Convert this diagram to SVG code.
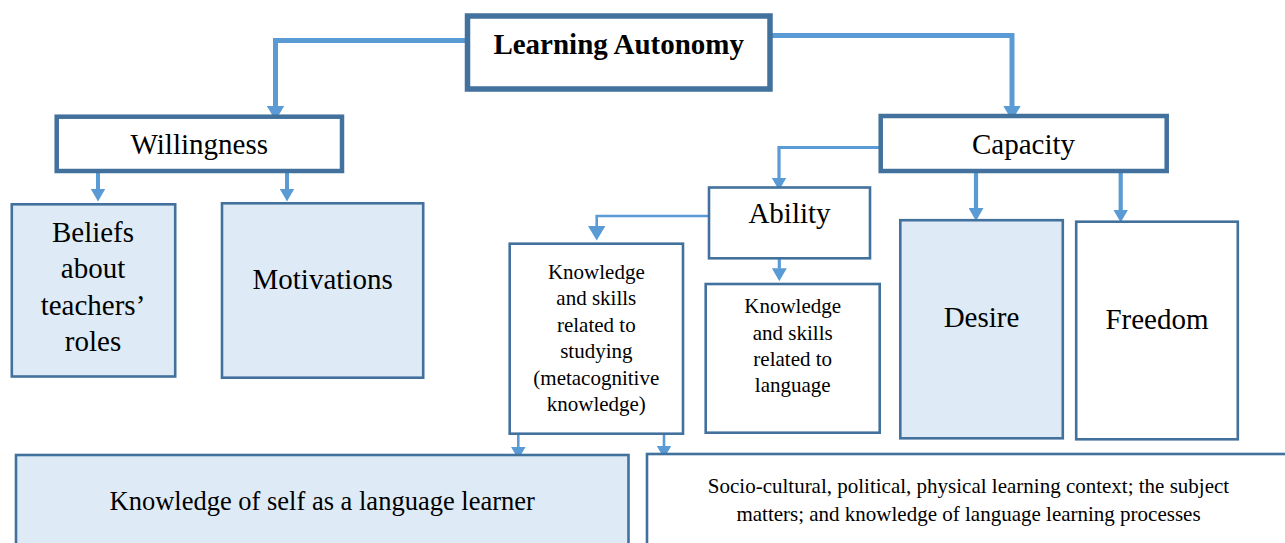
<svg xmlns="http://www.w3.org/2000/svg" width="1285" height="543" viewBox="0 0 1285 543">
  <style>
    .bg { fill: #ffffff; }
    .box { stroke: #41719C; stroke-linejoin: miter; }
    .heavy { stroke-width: 5.5; fill: #ffffff; }
    .mid { stroke-width: 4.5; fill: #ffffff; }
    .thin { stroke-width: 2.6; fill: #ffffff; }
    .tinted { fill: #DEEBF7; }
    .link { fill: none; stroke: #5B9BD5; stroke-linejoin: miter; stroke-linecap: butt; }
    text { font-family: "Liberation Serif", "Times New Roman", serif; fill: #000000; text-anchor: middle; }
    .title { font-size: 29px; font-weight: bold; }
    .big { font-size: 29px; }
    .small { font-size: 21px; }
    .wide { font-size: 26.5px; }
  </style>
  <defs>
    <marker id="arrow-lg" viewBox="0 0 15 18" markerWidth="15" markerHeight="18" refX="0.5" refY="9" orient="auto" markerUnits="userSpaceOnUse">
      <path d="M0,0 L15,9 L0,18 z" fill="#5B9BD5"/>
    </marker>
    <marker id="arrow-md" viewBox="0 0 13 15" markerWidth="13" markerHeight="15" refX="0.5" refY="7.5" orient="auto" markerUnits="userSpaceOnUse">
      <path d="M0,0 L13,7.5 L0,15 z" fill="#5B9BD5"/>
    </marker>
  </defs>

  <rect class="bg" x="0" y="0" width="1285" height="543"/>

  <!-- connectors -->
  <g id="connectors">
    <path class="link" stroke-width="5" d="M467,40.5 H275.5 V106" marker-end="url(#arrow-lg)"/>
    <path class="link" stroke-width="5" d="M770,35.5 H1012 V106" marker-end="url(#arrow-lg)"/>
    <path class="link" stroke-width="4" d="M98,173 V189" marker-end="url(#arrow-md)"/>
    <path class="link" stroke-width="4" d="M287,173 V189" marker-end="url(#arrow-md)"/>
    <path class="link" stroke-width="3.2" d="M880.7,147.5 H779 V178" marker-end="url(#arrow-md)"/>
    <path class="link" stroke-width="4.2" d="M976,171 V208.5" marker-end="url(#arrow-md)"/>
    <path class="link" stroke-width="4.2" d="M1120.7,171 V210" marker-end="url(#arrow-md)"/>
    <path class="link" stroke-width="2.6" d="M709,216 H596.7 V226" marker-end="url(#arrow-lg)"/>
    <path class="link" stroke-width="3.2" d="M779.3,258 V268.7" marker-end="url(#arrow-md)"/>
    <path class="link" stroke-width="2.6" d="M518.3,433.7 V447" marker-end="url(#arrow-md)"/>
    <path class="link" stroke-width="2.6" d="M664,433.7 V446" marker-end="url(#arrow-md)"/>
  </g>

  <!-- nodes -->
  <g id="learning-autonomy">
    <rect class="box heavy" x="467.5" y="16" width="302.5" height="73"/>
    <text class="title" x="618.7" y="54">Learning Autonomy</text>
  </g>

  <g id="willingness">
    <rect class="box mid" x="56.7" y="116.7" width="285.3" height="54.3"/>
    <text class="big" x="199.3" y="154">Willingness</text>
  </g>

  <g id="capacity">
    <rect class="box mid" x="880.7" y="116" width="286" height="55"/>
    <text class="big" x="1023.5" y="154">Capacity</text>
  </g>

  <g id="beliefs">
    <rect class="box thin tinted" x="11.8" y="204.3" width="163.4" height="172.2"/>
    <text class="big" x="93" y="241.7">Beliefs</text>
    <text class="big" x="93" y="278.2">about</text>
    <text class="big" x="93" y="314.7">teachers’</text>
    <text class="big" x="93" y="351.2">roles</text>
  </g>

  <g id="motivations">
    <rect class="box thin tinted" x="222" y="203.3" width="201.2" height="174.4"/>
    <text class="big" x="322.6" y="289">Motivations</text>
  </g>

  <g id="ability">
    <rect class="box thin" x="709" y="187.5" width="161" height="70.8" stroke-width="3.3"/>
    <text class="big" x="789.5" y="223.3">Ability</text>
  </g>

  <g id="skills-studying">
    <rect class="box thin" x="509.7" y="243.7" width="173.3" height="190"/>
    <text class="small" x="596.3" y="279">Knowledge</text>
    <text class="small" x="596.3" y="305.4">and skills</text>
    <text class="small" x="596.3" y="331.8">related to</text>
    <text class="small" x="596.3" y="358.2">studying</text>
    <text class="small" x="596.3" y="384.6">(metacognitive</text>
    <text class="small" x="596.3" y="411">knowledge)</text>
  </g>

  <g id="skills-language">
    <rect class="box thin" x="705.7" y="284" width="174" height="148.7"/>
    <text class="small" x="792.7" y="313.3">Knowledge</text>
    <text class="small" x="792.7" y="339.6">and skills</text>
    <text class="small" x="792.7" y="365.9">related to</text>
    <text class="small" x="792.7" y="392.2">language</text>
  </g>

  <g id="desire">
    <rect class="box thin tinted" x="900.3" y="220.2" width="162.5" height="218.1"/>
    <text class="big" x="981.5" y="327">Desire</text>
  </g>

  <g id="freedom">
    <rect class="box thin" x="1076.2" y="221.7" width="161.6" height="217.6"/>
    <text class="big" x="1157" y="329">Freedom</text>
  </g>

  <g id="self-knowledge">
    <rect class="box thin tinted" x="16" y="455" width="612.5" height="100"/>
    <text class="wide" x="322.2" y="510">Knowledge of self as a language learner</text>
  </g>

  <g id="context-knowledge">
    <rect class="box thin" x="647" y="454" width="643" height="100"/>
    <text class="small" x="968.5" y="493.3">Socio-cultural, political, physical learning context; the subject</text>
    <text class="small" x="968.5" y="521">matters; and knowledge of language learning processes</text>
  </g>
</svg>
